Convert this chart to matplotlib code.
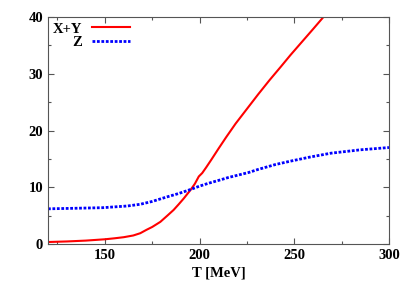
import matplotlib
matplotlib.use("Agg")
import matplotlib.pyplot as plt
from matplotlib.ticker import MultipleLocator

# values
T_xy = [120, 130, 140, 150, 155, 160, 165, 168.7, 172, 175, 179.3, 183, 186.3, 189, 191.6, 193.5, 195.2,
        197.5, 199.6, 201.4, 203.5, 206.3, 210, 214, 219, 225, 231, 237, 242.8, 248, 254, 260, 265.4]
xy = [0.35, 0.45, 0.6, 0.83, 1.0, 1.2, 1.5, 1.9, 2.5, 3.0, 3.9, 5.0, 6.0, 7.0, 8.0, 8.8, 9.5,
      10.6, 11.9, 12.5, 13.5, 14.9, 16.8, 18.8, 21.2, 23.8, 26.4, 28.9, 31.2, 33.3, 35.6, 37.9, 40.0]

T_z = [120, 135, 149, 162, 168.7, 175, 182.8, 189, 195.2, 200, 204.7, 211, 215, 225.9, 230.5, 240, 248,
       258, 269.3, 285, 300]
z = [6.2, 6.3, 6.4, 6.7, 7.0, 7.5, 8.3, 8.9, 9.6, 10.2, 10.7, 11.3, 11.7, 12.6, 13.1, 14.0, 14.6,
     15.3, 16.0, 16.6, 17.0]

plt.rcParams['font.family'] = ['Liberation Serif', 'DejaVu Serif']
plt.rcParams['font.weight'] = 'bold'

fig = plt.figure(figsize=(4.15, 2.91), dpi=100)
ax = fig.add_axes([48/415, 47/291, 341/415, 227/291])

ax.plot(T_xy, xy, color='#ff0000', lw=1.5, label='X+Y')
ax.plot(T_z, z, color='#0000ff', lw=2, ls=(0, (1, 0.6)), label='Z')

ax.set_xlim(120, 300)
ax.set_ylim(0, 40)
ax.set_xticks([150, 200, 250, 300])
ax.set_yticks([0, 10, 20, 30, 40])
ax.xaxis.set_minor_locator(MultipleLocator(25))
ax.yaxis.set_minor_locator(MultipleLocator(5))
ax.tick_params(which='both', direction='in', top=True, right=True, color='#555555', labelsize=10.5)
ax.tick_params(which='major', length=4, width=0.8)
ax.tick_params(which='minor', length=2, width=0.8)
for lab in ax.get_xticklabels() + ax.get_yticklabels():
    lab.set_fontweight('bold')
for s in ax.spines.values():
    s.set_color('#555555')
    s.set_linewidth(0.8)

ax.set_xlabel('T [MeV]', fontsize=10.5, fontweight='bold', labelpad=3)

leg = ax.legend(loc='upper left', bbox_to_anchor=(-0.012, 1.015), frameon=False, markerfirst=False,
                handlelength=2.6, handletextpad=0.7, labelspacing=0.05, borderaxespad=0.2,
                prop={'weight': 'bold', 'size': 10.5})
for t in leg.get_texts():
    t.set_ha('right')

fig.savefig('out.png', dpi=100)
